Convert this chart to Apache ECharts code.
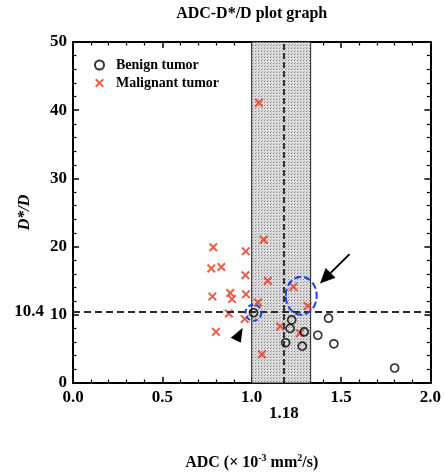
<!DOCTYPE html>
<html>
<head>
<meta charset="utf-8">
<script src="https://cdn.jsdelivr.net/npm/echarts@6/dist/echarts.min.js"></script>
<style>html,body{margin:0;padding:0;background:#fff}#c{width:444px;height:476px}</style>
</head>
<body>
<div id="c"></div>
<script>
// ---- data ----
const benignADC = [1.01, 1.224, 1.215, 1.294, 1.19, 1.283, 1.37, 1.43, 1.46, 1.80];
const benignDD  = [10.3, 9.25, 8.0, 7.5, 5.9, 5.4, 7.0, 9.5, 5.75, 2.2];
const malignantADC = [1.04, 0.785, 0.967, 1.067, 0.774, 0.83, 0.965, 1.09, 0.78, 0.88, 0.89, 0.968, 1.035, 0.872, 0.961, 0.80, 1.057, 1.233, 1.313, 1.16, 1.27];
const malignantDD  = [41.1, 19.9, 19.3, 21.0, 16.8, 17.0, 15.8, 15.0, 12.7, 13.2, 12.3, 13.0, 11.8, 10.2, 9.4, 7.5, 4.2, 14.1, 11.3, 8.3, 7.3];
const xTicks = [0.0, 0.5, 1.0, 1.5, 2.0];
const yTicks = [0, 10, 20, 30, 40, 50];
const cutADC = 1.18;
const cutDD = 10.4;
const bandADC = [1.0, 1.33];

const FONT = '"Liberation Serif","Times New Roman",serif';
const chart = echarts.init(document.getElementById('c'), null, {renderer: 'canvas'});

// dotted pattern for the band
const pc = document.createElement('canvas');
pc.width = 3; pc.height = 3;
const pctx = pc.getContext('2d');
pctx.fillStyle = '#dedede'; pctx.fillRect(0, 0, 3, 3);
pctx.fillStyle = '#808080'; pctx.fillRect(0, 0, 1, 1);
pctx.fillStyle = '#b0b0b0'; pctx.fillRect(1, 2, 1, 1);

const XSYM = 'path://M1.6,0 L5,3.4 L8.4,0 L10,1.6 L6.6,5 L10,8.4 L8.4,10 L5,6.6 L1.6,10 L0,8.4 L3.4,5 L0,1.6 Z';

const benign = benignADC.map((v, i) => [v, benignDD[i]]);
const malignant = malignantADC.map((v, i) => [v, malignantDD[i]]);

const axisCommon = {
  axisLine: {show: true, onZero: false, lineStyle: {color: '#000', width: 2}},
  axisTick: {show: true, inside: true, length: 6, lineStyle: {color: '#000', width: 1.5}},
  minorTick: {show: true, splitNumber: 5, length: 3.5, lineStyle: {color: '#000', width: 1.2}},
  splitLine: {show: false}
};

chart.setOption({
  animation: false,
  grid: {left: 73, right: 11, top: 42, bottom: 89},
  legend: {
    orient: 'vertical', left: 89, top: 53, itemGap: 4, itemWidth: 11, itemHeight: 9,
    textStyle: {fontFamily: FONT, fontWeight: 'bold', fontSize: 14, color: '#000', padding: [0, 0, 0, 6]},
    data: ['Benign tumor', 'Malignant tumor']
  },
  xAxis: [
    Object.assign({
      type: 'value', min: 0, max: 2, interval: 0.5, position: 'bottom',
      axisLabel: {fontFamily: FONT, fontWeight: 'bold', fontSize: 17, color: '#000', margin: 6,
        formatter: v => v.toFixed(1)},
      name: '{a|ADC (× 10}{s|-3}{a| mm}{s|2}{a|/s)}',
      nameLocation: 'middle', nameGap: 70,
      nameTextStyle: {rich: {
        a: {fontFamily: FONT, fontWeight: 'bold', fontSize: 16, color: '#000', verticalAlign: 'bottom'},
        s: {fontFamily: FONT, fontWeight: 'bold', fontSize: 10, color: '#000', verticalAlign: 'top', padding: [0, 0, 8, 0]}
      }}
    }, axisCommon),
    Object.assign({
      type: 'value', min: 0, max: 2, interval: 0.5, position: 'top',
      axisLabel: {show: false}
    }, axisCommon)
  ],
  yAxis: [
    Object.assign({
      type: 'value', min: 0, max: 50, interval: 10, position: 'left',
      axisLabel: {fontFamily: FONT, fontWeight: 'bold', fontSize: 17, color: '#000', margin: 6},
      name: 'D*/D', nameLocation: 'middle', nameGap: 40,
      nameTextStyle: {fontFamily: FONT, fontWeight: 'bold', fontStyle: 'italic', fontSize: 16, color: '#000'}
    }, axisCommon),
    Object.assign({
      type: 'value', min: 0, max: 50, interval: 10, position: 'right',
      axisLabel: {show: false}
    }, axisCommon)
  ],
  series: [
    {
      name: 'band', type: 'scatter', data: [], silent: true, z: 1,
      markArea: {
        silent: true,
        itemStyle: {color: {image: pc, repeat: 'repeat'}, borderColor: '#222', borderWidth: 1},
        data: [[{xAxis: bandADC[0]}, {xAxis: bandADC[1]}]]
      },
      markLine: {
        silent: true, symbol: 'none', label: {show: false},
        data: [
          {xAxis: cutADC, lineStyle: {color: '#000', type: [6, 3], width: 1.5}},
          {yAxis: cutDD, lineStyle: {color: '#2a2a2a', type: [7, 4], width: 1.8}}
        ]
      }
    },
    {
      name: 'Benign tumor', type: 'scatter', data: benign, z: 5,
      symbol: 'circle', symbolSize: 8,
      itemStyle: {color: 'rgba(255,255,255,0)', borderColor: '#000', borderWidth: 1.7}
    },
    {
      name: 'Malignant tumor', type: 'scatter', data: malignant, z: 4,
      symbol: XSYM, symbolSize: 9,
      itemStyle: {color: '#e8341f'}
    }
  ]
});

function px(x, y) { return chart.convertToPixel({xAxisIndex: 0, yAxisIndex: 0}, [x, y]); }

const cSmall = px(1.01, 10.3);
const cBig = px(1.277, 12.8);
const aTail = px(1.548, 18.9);
const aTip = px(1.382, 14.6);
const tTip = px(0.95, 8.1);
const lbl104 = px(0, cutDD);
const lbl118 = px(cutADC, 0);
const topCenter = px(1.0, 50);

// arrow head geometry
const dx = aTip[0] - aTail[0], dy = aTip[1] - aTail[1];
const L = Math.hypot(dx, dy), ux = dx / L, uy = dy / L;
const hl = 15, hw = 7;
const bx = aTip[0] - ux * hl, by = aTip[1] - uy * hl;
const head = [aTip, [bx - uy * hw, by + ux * hw], [bx + uy * hw, by - ux * hw]];

chart.setOption({
  graphic: [
    {type: 'text', x: topCenter[0], y: 6, style: {text: 'ADC-D*/D plot graph', fontFamily: FONT, fontWeight: 'bold', fontSize: 16, fill: '#000', align: 'center'}},
    {type: 'text', x: lbl104[0] - 29, y: lbl104[1], style: {text: '10.4', fontFamily: FONT, fontWeight: 'bold', fontSize: 17, fill: '#000', align: 'right', verticalAlign: 'middle'}},
    {type: 'text', x: lbl118[0], y: lbl118[1] + 22, style: {text: '1.18', fontFamily: FONT, fontWeight: 'bold', fontSize: 17, fill: '#000', align: 'center', verticalAlign: 'top'}},
    {type: 'circle', z: 10, shape: {cx: cSmall[0], cy: cSmall[1], r: 8}, style: {fill: 'none', stroke: '#1c3fe0', lineWidth: 2, lineDash: [5, 3]}},
    {type: 'ellipse', z: 10, shape: {cx: cBig[0], cy: cBig[1], rx: 15.5, ry: 19}, style: {fill: 'none', stroke: '#1c3fe0', lineWidth: 2, lineDash: [7, 3]}},
    {type: 'line', z: 10, shape: {x1: aTail[0], y1: aTail[1], x2: bx, y2: by}, style: {stroke: '#000', lineWidth: 2}},
    {type: 'polygon', z: 10, shape: {points: head}, style: {fill: '#000'}},
    {type: 'polygon', z: 10, shape: {points: [tTip, [tTip[0] - 12, tTip[1] + 10], [tTip[0] - 2, tTip[1] + 15]]}, style: {fill: '#000'}}
  ]
});
</script>
</body>
</html>
